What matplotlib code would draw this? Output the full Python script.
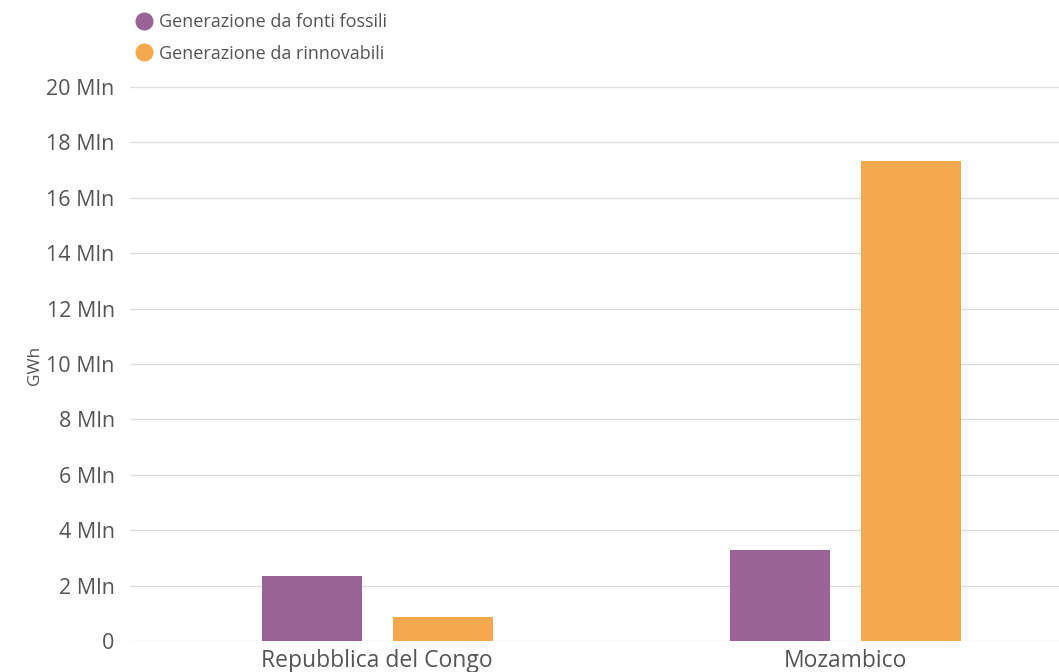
import matplotlib
matplotlib.use("Agg")
import matplotlib.pyplot as plt
from matplotlib.lines import Line2D

categories = ["Repubblica del Congo", "Mozambico"]
series_names = ["Generazione da fonti fossili", "Generazione da rinnovabili"]
fossili = [2.35, 3.29]       # milioni di GWh
rinnovabili = [0.87, 17.33]  # milioni di GWh
yticks = [0, 2, 4, 6, 8, 10, 12, 14, 16, 18, 20]
ytick_labels = ["0"] + [f"{v} Mln" for v in yticks[1:]]

colors = ["#9a6396", "#f5a94e"]
plt.rcParams['font.family'] = ['Open Sans', 'DejaVu Sans']

fig = plt.figure(figsize=(10.59, 6.72), dpi=100)
ax = fig.add_axes([130/1059, 31/672, 1 - 130/1059, (641-87)/672])

x = list(range(len(categories)))
w = 0.214
off = 0.14
ax.bar([i - off for i in x], fossili, width=w, color=colors[0], zorder=3)
ax.bar([i + off for i in x], rinnovabili, width=w, color=colors[1], zorder=3)

ax.set_xlim(-0.528, 1.457)
ax.set_ylim(0, 20)
ax.set_yticks(yticks)
ax.set_yticklabels(ytick_labels, fontsize=15.5, color="#555555")
ax.set_xticks(x)
ax.set_xticklabels(categories, fontsize=16.5, color="#555555")
ax.tick_params(axis='both', length=0)
ax.tick_params(axis='y', pad=11)
ax.tick_params(axis='x', pad=6)
ax.grid(axis='y', color="#dddddd", linewidth=0.9, zorder=0)
for s in ax.spines.values():
    s.set_visible(False)

fig.text(35/1059, 1 - 365/672, "GWh", rotation=90, ha='center', va='center',
         fontsize=12.5, color="#555555")

handles = [Line2D([], [], marker='o', linestyle='none', markersize=12,
                  markerfacecolor=c, markeredgecolor=c) for c in colors]
leg = fig.legend(handles, series_names, loc='upper left',
                 bbox_to_anchor=(126/1059, 1 - 6/672), frameon=False,
                 fontsize=13, handletextpad=0.25, labelspacing=0.75,
                 handlelength=1.2, borderaxespad=0)
for t in leg.get_texts():
    t.set_color("#555555")

fig.savefig("out.png", dpi=100)
